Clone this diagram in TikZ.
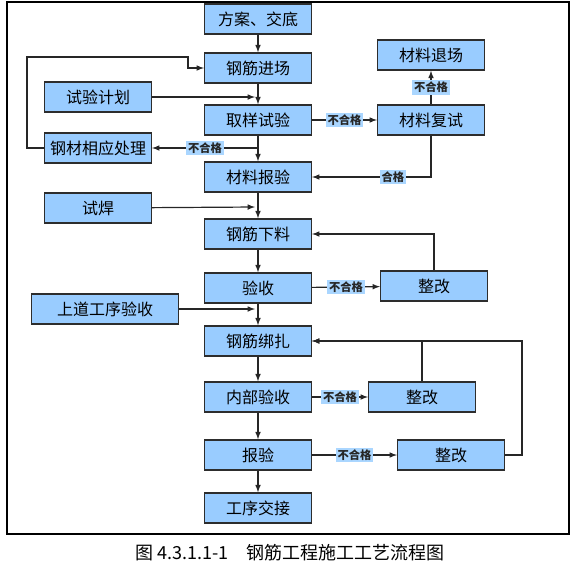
\documentclass[tikz,border=0pt]{standalone}
\usepackage{fontspec}
\setmainfont{Noto Sans CJK SC}
\definecolor{boxblue}{RGB}{153,204,255}
\definecolor{labblue}{RGB}{170,214,255}
\definecolor{boxline}{RGB}{45,45,45}

\begin{document}
\begin{tikzpicture}[x=0.75pt,y=-0.75pt]
\tikzstyle{proc}=[rectangle,draw=boxline,line width=1.1pt,fill=boxblue,minimum width=80pt,minimum height=22.5pt,inner sep=0pt,font=\fontsize{12}{14}\selectfont]
\tikzstyle{wide}=[proc,minimum width=110pt]
\tikzstyle{lab}=[fill=labblue,inner sep=1.2pt,font=\fontsize{8.5}{10}\selectfont\bfseries]
\tikzstyle{flow}=[-latex,line width=0.9pt,black!85]

\useasboundingbox (0,0) rectangle (574,569);
\draw[line width=0.9pt] (7,2) rectangle (569,534);

\node[proc] (plan)      at (258,19)  {方案、交底};
\node[proc] (rebarIn)   at (258,68)  {钢筋进场};
\node[proc] (returnMat) at (431,55)  {材料退场};
\node[proc] (testPlan)  at (98,97)   {试验计划};
\node[proc] (sample)    at (258,120) {取样试验};
\node[proc] (retest)    at (431,120) {材料复试};
\node[proc] (treat)     at (98,148)  {钢材相应处理};
\node[proc] (report)    at (258,177) {材料报验};
\node[proc] (weldTest)  at (98,208)  {试焊};
\node[proc] (cutting)   at (258,234) {钢筋下料};
\node[proc] (accept)    at (258,288) {验收};
\node[proc] (fixA)      at (434,286) {整改};
\node[wide] (prevCheck) at (105,309) {上道工序验收};
\node[proc] (binding)   at (258,341) {钢筋绑扎};
\node[proc] (innerCheck) at (258,397) {内部验收};
\node[proc] (fixB)      at (422,397) {整改};
\node[proc] (submit)    at (258,455) {报验};
\node[proc] (fixC)      at (451,455) {整改};
\node[proc] (handover)  at (258,508) {工序交接};

\coordinate (planIn)  at (255,97);
\coordinate (weldIn)  at (255,207);
\coordinate (prevIn)  at (255,309);
\coordinate (loopA)   at (27,57);
\coordinate (loopB)   at (188,57);
\coordinate (loopC)   at (522,455);

% main line
\draw[flow] (plan) -- (rebarIn);
\draw[flow] (rebarIn) -- (sample);
\draw[flow] (sample) -- (report);
\draw[flow] (report) -- (cutting);
\draw[flow] (cutting) -- (accept);
\draw[flow] (accept) -- (binding);
\draw[flow] (binding) -- (innerCheck);
\draw[flow] (innerCheck) -- (submit);
\draw[flow] (submit) -- (handover);

% side inputs
\draw[flow] (testPlan) -- (planIn);
\draw[flow] (weldTest) -- (weldIn);
\draw[flow] (prevCheck) -- (prevIn);

% material test
\draw[flow] (sample.south |- treat) -- node[lab] (ngA) {不合格} (treat);
\draw[flow] (treat.west) -| (loopA) -- (loopB) |- (rebarIn.west);
\draw[flow] (sample) -- node[lab] (ngB) {不合格} (retest);
\draw[flow] (retest) -- node[lab] (ngC) {不合格} (returnMat);
\draw[flow] (retest) |- node[lab,pos=0.66] (okA) {合格} (report);

% rework
\draw[flow] (accept) -- node[lab] (ngD) {不合格} (fixA);
\draw[flow] (fixA) |- (cutting);
\draw[flow] (innerCheck) -- node[lab] (ngE) {不合格} (fixB);
\draw[flow] (fixB) |- (binding);
\draw[flow] (submit) -- node[lab] (ngF) {不合格} (fixC);
\draw[flow] (fixC.east) -- (loopC) |- (binding.east);

\node (caption) at (290,553) {\fontsize{13.5}{15}\selectfont 图 4.3.1.1-1\quad 钢筋工程施工工艺流程图};
\end{tikzpicture}
\end{document}
